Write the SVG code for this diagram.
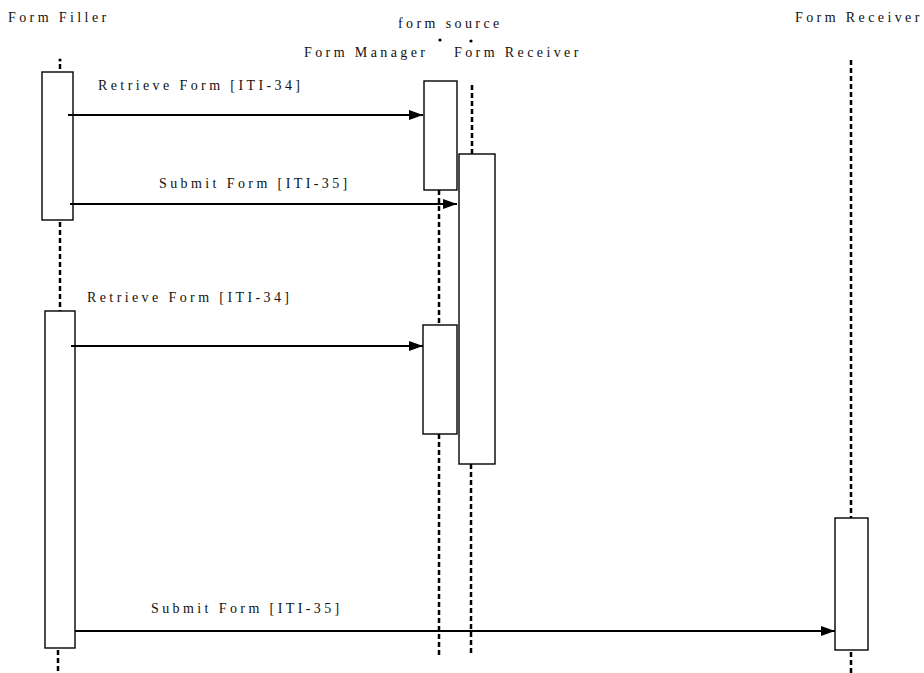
<svg xmlns="http://www.w3.org/2000/svg" width="924" height="673" viewBox="0 0 924 673">
<style>
text{font-family:"Liberation Serif","Times New Roman",serif;font-size:14px;letter-spacing:3.4px;fill:#111}
.life{stroke:#000;stroke-width:2.5;stroke-dasharray:5 3;fill:none}
.act{fill:#fff;stroke:#000;stroke-width:1.4}
.msg{stroke:#000;stroke-width:2;fill:none;marker-end:url(#ah)}
</style>
<defs>
<marker id="ah" viewBox="0 0 14 10" refX="14" refY="5" markerWidth="14" markerHeight="10" markerUnits="userSpaceOnUse" orient="auto">
<path d="M0,0 L14,5 L0,10 z" fill="#000"/>
</marker>
</defs>
<rect width="924" height="673" fill="#fff"/>
<g id="form-filler">
<text x="8" y="22">Form Filler</text>
<circle cx="60" cy="60" r="1.6" fill="#000"/>
<line class="life" x1="60" y1="64" x2="60" y2="72"/>
<rect class="act" x="42" y="72" width="31" height="148"/>
<line class="life" x1="60" y1="222" x2="60" y2="311"/>
<rect class="act" x="45" y="311" width="30" height="337"/>
<line class="life" x1="58" y1="650" x2="58" y2="673"/>
</g>
<g id="form-source">
<text x="398" y="28">form source</text>
</g>
<g id="form-manager">
<text x="304" y="57">Form Manager</text>
<circle cx="440" cy="40" r="1.6" fill="#000"/>
<line class="life" x1="439" y1="190" x2="439" y2="325"/>
<line class="life" x1="439" y1="434" x2="439" y2="656"/>
<rect class="act" x="424" y="81" width="33" height="109"/>
<rect class="act" x="423" y="325" width="34" height="109"/>
</g>
<g id="form-receiver-1">
<text x="454" y="57">Form Receiver</text>
<circle cx="471" cy="41" r="1.6" fill="#000"/>
<line class="life" x1="472" y1="85" x2="472" y2="154"/>
<line class="life" x1="471" y1="464" x2="471" y2="656"/>
<rect class="act" x="459" y="154" width="36" height="310"/>
</g>
<g id="form-receiver-2">
<text x="795" y="22">Form Receiver</text>
<line class="life" x1="851" y1="60" x2="851" y2="518"/>
<rect class="act" x="835" y="518" width="33" height="132"/>
<line class="life" x1="851" y1="652" x2="851" y2="673"/>
</g>
<g id="connectors">
<line class="msg" x1="68" y1="115" x2="423" y2="115"/>
<text x="98" y="90">Retrieve Form [ITI-34]</text>
<line class="msg" x1="70" y1="204" x2="457" y2="204"/>
<text x="159" y="188">Submit Form [ITI-35]</text>
<line class="msg" x1="71" y1="346" x2="423" y2="346"/>
<text x="87" y="302">Retrieve Form [ITI-34]</text>
<line class="msg" x1="75" y1="631" x2="835" y2="631"/>
<text x="151" y="613">Submit Form [ITI-35]</text>
</g>
</svg>
